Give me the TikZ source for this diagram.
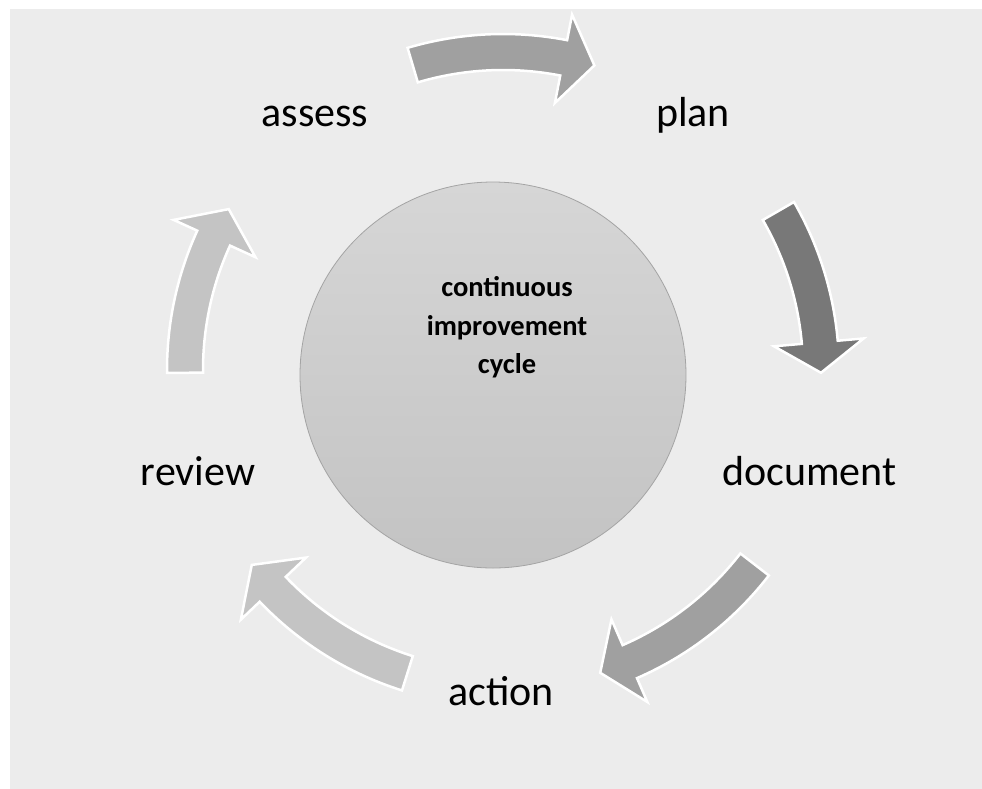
\documentclass[tikz,border=0pt]{standalone}
\usepackage{fontspec}
\setmainfont{Carlito}
\definecolor{bgc}{HTML}{ECECEC}
\definecolor{armid}{HTML}{A0A0A0}
\definecolor{ardark}{HTML}{787878}
\definecolor{arlight}{HTML}{C4C4C4}
\definecolor{hubtop}{HTML}{D6D6D6}
\definecolor{hubbot}{HTML}{C3C3C3}
\definecolor{hubline}{HTML}{A4A4A4}
\newcommand\cyclearrow[4]{%
  \filldraw[fill=#4, draw=white, line width=2.5pt, line join=miter]
    (#1:336) arc[start angle=#1, end angle=#2, radius=336pt]
    -- (#2:362) -- (#3:318) -- (#2:272) -- (#2:300)
    arc[start angle=#2, end angle=#1, radius=300pt] -- cycle;}
\begin{document}
\begin{tikzpicture}[x=1pt,y=1pt,
  lbl/.style={anchor=base, inner sep=0pt, font=\fontsize{42}{50}\selectfont},
  hubtxt/.style={anchor=base, inner sep=0pt, font=\bfseries\fontsize{28.5}{38}\selectfont}]
\useasboundingbox (0,0) rectangle (982,-788);
\fill[white] (-5,5) rectangle (992,-798);
\fill[bgc] (10,-9) rectangle (992,-798);
\node[circle, minimum size=386pt, inner sep=0pt, draw=hubline, line width=0.8pt,
      top color=hubtop, bottom color=hubbot] (hub) at (493,-375) {};
\node[hubtxt] (h1) at (507,-296) {continuous};
\node[hubtxt] (h2) at (507,-335) {improvement};
\node[hubtxt] (h3) at (507,-373) {cycle};
\begin{scope}[shift={(503,-370)}]
  \cyclearrow{106.5}{79}{73.3}{armid}
  \cyclearrow{30}{5}{-0.5}{ardark}
  \cyclearrow{-37.7}{-66.5}{-72.2}{armid}
  \cyclearrow{-107.5}{-136.4}{-142.2}{arlight}
  \cyclearrow{180.5}{155.5}{149.6}{arlight}
\end{scope}
\node[lbl] (assess) at (315,-126) {assess};
\node[lbl] (plan) at (693,-126) {plan};
\node[lbl] (document) at (809.5,-485) {document};
\node[lbl] (action) at (501,-705) {action};
\node[lbl] (review) at (198,-485) {review};
\end{tikzpicture}
\end{document}
